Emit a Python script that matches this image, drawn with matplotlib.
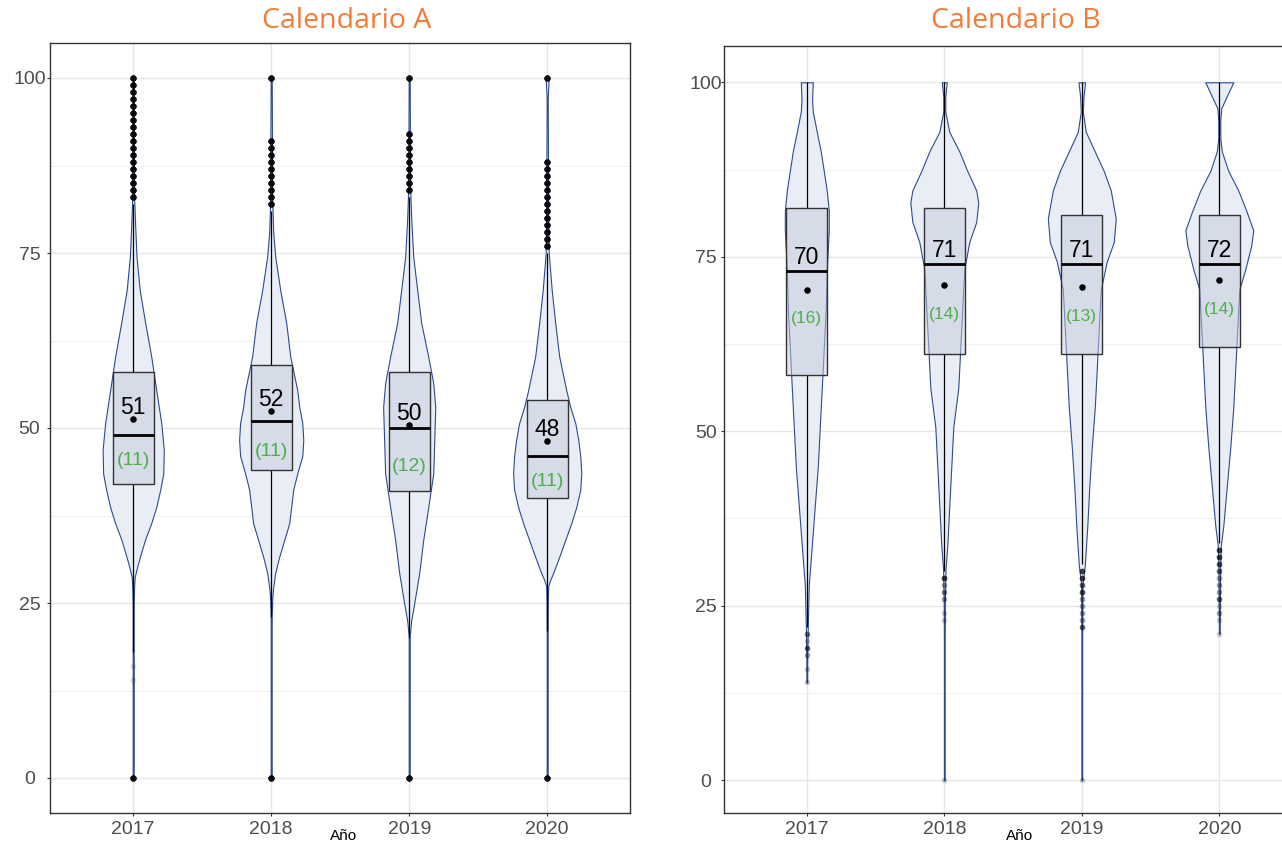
import matplotlib
matplotlib.use("Agg")
import matplotlib.pyplot as plt
import numpy as np

# ---------------- data ----------------
years = ["2017", "2018", "2019", "2020"]
titles = ["Calendario A", "Calendario B"]

# Calendario A box statistics
A_q1 = [42, 44, 41, 40]
A_med = [49, 51, 50, 46]
A_q3 = [58, 59, 58, 54]
A_whis_lo = [18, 23, 20, 21]
A_whis_hi = [82, 81, 83, 75]
A_mean = [51.3, 52.5, 50.4, 48.2]
A_sd = [11, 11, 12, 11]

# Calendario B box statistics
B_q1 = [58, 61, 61, 62]
B_med = [73, 74, 74, 74]
B_q3 = [82, 82, 81, 81]
B_whis_lo = [22, 30, 31, 34]
B_whis_hi = [100, 100, 100, 100]
B_mean = [70.3, 70.9, 70.7, 71.6]
B_sd = [16, 14, 13, 14]

# Outliers (value, number of overlapping observations)
A_out_vals = [
    [0, 14, 16, 83, 84, 85, 86, 87, 88, 89, 90, 91, 92, 93, 94, 95, 96, 97, 98, 99, 100],
    [0, 82, 83, 84, 85, 86, 87, 88, 89, 90, 91, 100],
    [0, 84, 85, 86, 87, 88, 89, 90, 91, 92, 100],
    [0, 76, 77, 78, 79, 80, 81, 82, 83, 84, 85, 86, 87, 88, 100],
]
A_out_counts = [
    [20, 1, 1] + [20] * 18,
    [20] + [20] * 10 + [20],
    [20] + [20] * 9 + [20],
    [20] + [20] * 13 + [20],
]
B_out_vals = [
    [21, 20, 19, 18, 16, 14],
    [29, 28, 27, 26, 24, 23, 0],
    [30, 29, 28, 27, 26, 25, 24, 23, 22, 0],
    [33, 32, 31, 30, 29, 28, 27, 26, 25, 24, 23, 21],
]
B_out_counts = [
    [3, 1, 4, 2, 1, 1],
    [6, 2, 3, 2, 1, 1, 1],
    [6, 6, 4, 5, 2, 2, 2, 2, 4, 1],
    [6, 6, 5, 4, 2, 2, 2, 4, 1, 2, 1, 1],
]

# Violin density profiles (value grid, relative density)
A_vy = [
    [0, 25, 27.5, 28.7, 30.2, 31.6, 34, 36.4, 38.7, 41.2, 43.5, 46.9, 50.7, 55.4, 60.2, 65, 69.7, 74.5, 78.8, 82.6, 90, 100],
    [0, 20, 23, 25.5, 26.9, 29.3, 31.6, 34, 36.4, 38.8, 41.2, 43.5, 46, 48.3, 50.7, 53, 55.4, 60.2, 65, 69.7, 74.5, 78, 82.6, 91, 100],
    [0, 18, 20.3, 22.5, 24.5, 29.3, 34, 38.7, 43.5, 48.3, 53, 56.4, 60.2, 65, 69.7, 74.5, 80, 84, 92, 100],
    [0, 21, 25, 27.4, 28.3, 29.3, 31.6, 34, 36.4, 38.7, 41.2, 43.5, 46, 48.3, 50.7, 53, 55.4, 60.2, 65, 69.7, 75, 80, 88, 97, 100],
]
A_vd = [
    [0.5, 0.5, 1.0, 1.5, 4, 6.7, 11.7, 18, 23, 27, 30, 30.5, 28, 23, 18, 12, 6.5, 3.3, 2, 1, 0.6, 0.5],
    [0.5, 0.5, 0.5, 1.0, 1.7, 4, 8, 13, 18, 20, 22, 26, 31, 32, 31, 28, 26, 19, 15, 9, 4, 2, 1, 0.8, 0.5],
    [0.5, 0.5, 0.5, 2.0, 4.5, 10, 14, 19, 24, 25, 26, 24, 19, 12, 8, 4, 2, 1, 0.7, 0.5],
    [0.5, 0.5, 0.6, 1, 3, 6, 12, 18, 24, 29, 33, 34, 33, 31, 28, 23, 19, 12, 8, 4.5, 1.5, 1, 0.8, 0.5, 1.5],
]
B_vy = [
    [14, 18, 22.3, 28, 33.6, 39.3, 44.9, 50.6, 56.2, 61.9, 67.5, 73.2, 76, 78.8, 81.6, 84.5, 87.3, 90.1, 92.9, 95.8, 97.5, 100],
    [0, 20, 26, 30.2, 33.6, 39.3, 44.9, 50.6, 56.2, 61.9, 67.5, 73.2, 77.1, 80, 82.8, 84.5, 87.3, 90.1, 92.9, 95.8, 98, 100],
    [0, 20, 28, 30.8, 36.4, 42.1, 47.7, 53.4, 59, 64.7, 70.3, 74.3, 77.1, 80.5, 84.5, 87.3, 90.1, 92.9, 95.8, 98, 100],
    [21, 30, 33.6, 36.4, 42.1, 47.7, 53.4, 59, 64.7, 70.3, 73.2, 76.6, 78.8, 81.6, 84.5, 87.3, 90.1, 92, 94.6, 96.3, 98, 100],
]
B_vd = [
    [0.4, 0.5, 1, 2, 5, 8, 11, 13, 15, 17, 19, 20, 21, 22, 22, 20, 17, 14, 10, 6, 5.3, 6],
    [0.4, 0.4, 0.6, 1.2, 3, 5, 7, 9, 14, 16, 18, 20, 25, 32, 34, 32, 23, 15, 5, 1, 1, 2.5],
    [0.4, 0.4, 0.6, 3, 5.5, 7.5, 10, 13, 15, 17, 19, 25, 32, 34, 29, 22, 13, 4, 1, 1.7, 3.3],
    [0.4, 0.8, 1.5, 4, 7.5, 11, 14, 16, 18, 20, 26, 32, 34, 27, 19, 9, 2.5, 1, 1, 2, 7.5, 14],
]

# ---------------- style ----------------
W, H = 1282, 843
DENS_MAX = 34.0
MAX_HALF = 0.247
BOX_W = 0.30
VIOLIN_FILL = "#E9EDF5"
VIOLIN_EDGE = "#2E4A8E"
BOX_FACE = (0.77, 0.795, 0.863, 0.5)
GREEN = "#4DAF4A"
ORANGE = "#F47B36"
TICK_COL = "#4D4D4D"

plt.rcParams["font.family"] = ["Liberation Sans", "DejaVu Sans"]

fig = plt.figure(figsize=(W / 100, H / 100), dpi=100)
fig.patch.set_facecolor("white")

axA = fig.add_axes([50.4 / W, 30 / H, 579.6 / W, 770 / H])
axB = fig.add_axes([724.3 / W, 30 / H, 577.5 / W, 767 / H])


def draw_panel(ax, vy, vd, q1, med, q3, wlo, whi, mean, sd, ovals, ocounts,
               out_alpha, out_size, lab_anchor, lab_off, sd_off, sd_size, ylim, ypad):
    xs = np.arange(1, len(years) + 1)
    for i, x in enumerate(xs):
        y = np.array(vy[i], dtype=float)
        hw = np.array(vd[i], dtype=float) / DENS_MAX * MAX_HALF
        ax.fill_betweenx(y, x - hw, x + hw, facecolor=VIOLIN_FILL,
                         edgecolor=VIOLIN_EDGE, linewidth=0.8, zorder=2)
        # whiskers
        ax.plot([x, x], [q3[i], whi[i]], color="black", lw=0.9, zorder=2.6,
                solid_capstyle="butt")
        ax.plot([x, x], [wlo[i], q1[i]], color="black", lw=0.9, zorder=2.6,
                solid_capstyle="butt")
        # box
        rect = plt.Rectangle((x - BOX_W / 2, q1[i]), BOX_W, q3[i] - q1[i],
                             facecolor=BOX_FACE, edgecolor="#333333", lw=1.0, zorder=3)
        ax.add_patch(rect)
        ax.plot([x - BOX_W / 2, x + BOX_W / 2], [med[i], med[i]], color="black",
                lw=2.0, zorder=3.5, solid_capstyle="butt")
        # outliers
        vals = np.repeat(ovals[i], ocounts[i])
        ax.scatter(np.full(len(vals), x), vals, s=out_size, color="black",
                   alpha=out_alpha, linewidths=0, zorder=4)
        # mean
        ax.scatter([x], [mean[i]], s=22, color="black", linewidths=0, zorder=5)
        anchor = mean[i] if lab_anchor == "mean" else med[i]
        ax.text(x, anchor + lab_off, f"{round(mean[i])}", ha="center", va="center",
                fontsize=16.5, color="black", zorder=6)
        ax.text(x, mean[i] + sd_off, f"({sd[i]})", ha="center", va="center",
                fontsize=sd_size, color=GREEN, zorder=6)

    ax.set_xlim(0.4, 4.6)
    ax.set_ylim(*ylim)
    ax.set_xticks(xs)
    ax.set_xticklabels(years)
    ax.set_yticks([0, 25, 50, 75, 100])
    ax.set_yticks([12.5, 37.5, 62.5, 87.5], minor=True)
    ax.grid(which="major", axis="both", color="#E6E6E6", lw=1.0, zorder=0)
    ax.grid(which="minor", axis="y", color="#F0F0F0", lw=0.7, zorder=0)
    ax.set_axisbelow(True)
    ax.tick_params(which="minor", length=0)
    ax.tick_params(axis="both", which="major", length=2.2, color="#333333",
                   labelsize=14, labelcolor=TICK_COL, width=0.8)
    ax.tick_params(axis="x", pad=3.5)
    ax.tick_params(axis="y", pad=ypad)
    for lab in ax.get_yticklabels():
        lab.set_horizontalalignment("center")
    for sp in ax.spines.values():
        sp.set_color("#333333")
        sp.set_linewidth(1.0)


draw_panel(axA, A_vy, A_vd, A_q1, A_med, A_q3, A_whis_lo, A_whis_hi, A_mean, A_sd,
           A_out_vals, A_out_counts, 0.12, 20, "mean", 1.6, -5.9, 14, (-5, 105), 12.9)
draw_panel(axB, B_vy, B_vd, B_q1, B_med, B_q3, B_whis_lo, B_whis_hi, B_mean, B_sd,
           B_out_vals, B_out_counts, 0.2, 16, "median", 1.9, -4.2, 12.5, (-4.7, 105.2), 11.0)

fig.text(347 / W, 1 - 21 / H, titles[0], ha="center", va="center", fontsize=20.5,
         color=ORANGE, family=["Open Sans", "DejaVu Sans"])
fig.text(1016 / W, 1 - 21 / H, titles[1], ha="center", va="center", fontsize=20.5,
         color=ORANGE, family=["Open Sans", "DejaVu Sans"])
fig.text(344 / W, 1 - 836 / H, "Año", ha="center", va="center", fontsize=11, color="black")
fig.text(1020 / W, 1 - 836 / H, "Año", ha="center", va="center", fontsize=11, color="black")

fig.savefig("out.png", dpi=100)
